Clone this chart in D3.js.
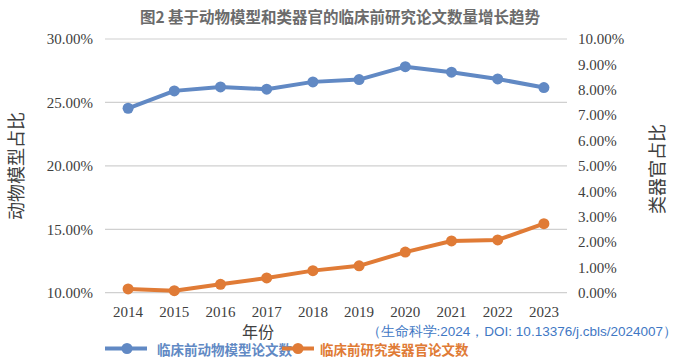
<!DOCTYPE html>
<html><head><meta charset="utf-8">
<script src="https://cdn.jsdelivr.net/npm/d3@7"></script>
<style>body{margin:0;background:#fff}svg{display:block}</style>
</head><body>
<svg id="c" width="680" height="360"></svg>
<script>
const years = ["2014","2015","2016","2017","2018","2019","2020","2021","2022","2023"];
const animalShare = [24.54, 25.91, 26.22, 26.04, 26.62, 26.80, 27.82, 27.38, 26.85, 26.17];
const organoidShare = [0.15, 0.08, 0.33, 0.58, 0.87, 1.06, 1.60, 2.04, 2.08, 2.72];
const leftTicks = [10, 15, 20, 25, 30];
const rightTicks = [0,1,2,3,4,5,6,7,8,9,10];
const title = "图2 基于动物模型和类器官的临床前研究论文数量增长趋势";
const seriesNames = ["临床前动物模型论文数", "临床前研究类器官论文数"];
const note = "（生命科学:2024，DOI: 10.13376/j.cbls/2024007）";

const blue = "#6189c4", orange = "#e07b36";
const svg = d3.select("#c");
const x = d3.scaleBand().domain(years).range([105, 567]);
const yL = d3.scaleLinear().domain([10, 30]).range([292.7, 39]);
const yR = d3.scaleLinear().domain([0, 10]).range([292.7, 39]);
const serif = "'Liberation Serif','Times New Roman',serif";
const cjk = "'Noto Sans CJK SC','Noto Sans',sans-serif";

svg.append("text").attr("x", 340).attr("y", 23).attr("text-anchor","middle")
  .attr("font-family", cjk).attr("font-weight","bold").attr("font-size",15.5)
  .attr("fill","#6b6b6b").text(title);

// gridlines
svg.append("g").selectAll("line").data(leftTicks).join("line")
  .attr("x1",105).attr("x2",567).attr("y1",d=>yL(d)).attr("y2",d=>yL(d))
  .attr("stroke","#d0d0d0").attr("stroke-width",1.2);

// left axis
const gL = svg.append("g").attr("transform","translate(105,0)")
  .call(d3.axisLeft(yL).tickValues(leftTicks).tickSize(0).tickPadding(12).tickFormat(d=>d.toFixed(2)+"%"));
gL.select(".domain").remove();
gL.selectAll("text").attr("font-family",serif).attr("font-size",15).attr("fill","#404040");

// right axis
const gR = svg.append("g").attr("transform","translate(567,0)")
  .call(d3.axisRight(yR).tickValues(rightTicks).tickSize(0).tickPadding(11).tickFormat(d=>d.toFixed(2)+"%"));
gR.select(".domain").remove();
gR.selectAll("text").attr("font-family",serif).attr("font-size",15).attr("fill","#404040");

// x axis
const gX = svg.append("g").attr("transform","translate(0,292.7)")
  .call(d3.axisBottom(x).tickSize(0).tickPadding(14));
gX.select(".domain").remove();
gX.selectAll("text").attr("font-family",serif).attr("font-size",15).attr("fill","#404040");

const cx = d => x(d) + x.bandwidth()/2;

// series
function drawSeries(vals, y, color){
  const data = years.map((yr,i)=>({yr, v: vals[i]}));
  svg.append("path").datum(data)
    .attr("d", d3.line().x(d=>cx(d.yr)).y(d=>y(d.v)))
    .attr("fill","none").attr("stroke",color).attr("stroke-width",4).attr("stroke-linejoin","round");
  svg.append("g").selectAll("circle").data(data).join("circle")
    .attr("cx",d=>cx(d.yr)).attr("cy",d=>y(d.v)).attr("r",5.5).attr("fill",color);
}
drawSeries(animalShare, yL, blue);
drawSeries(organoidShare, yR, orange);

// axis titles
svg.append("text").attr("transform","translate(23,166) rotate(-90)").attr("text-anchor","middle")
  .attr("font-family",cjk).attr("font-size",18).attr("fill","#404040").text("动物模型占比");
svg.append("text").attr("transform","translate(664,169) rotate(-90)").attr("text-anchor","middle")
  .attr("font-family",cjk).attr("font-size",18).attr("fill","#404040").text("类器官占比");
svg.append("text").attr("x",258).attr("y",338).attr("text-anchor","middle")
  .attr("font-family",cjk).attr("font-size",16).attr("fill","#404040").text("年份");

// note
svg.append("text").attr("x",677).attr("y",336).attr("text-anchor","end")
  .attr("font-family","'Liberation Sans',Arial,sans-serif").attr("font-size",13.5).attr("fill","#3f78c4").text(note);

// legend
const leg = [{c:blue,x1:105,x2:147,m:127,t:157},{c:orange,x1:282,x2:314,m:298,t:320}];
leg.forEach((l,i)=>{
  svg.append("line").attr("x1",l.x1).attr("x2",l.x2).attr("y1",348.5).attr("y2",348.5)
    .attr("stroke",l.c).attr("stroke-width",4);
  svg.append("circle").attr("cx",l.m).attr("cy",348.5).attr("r",5.5).attr("fill",l.c);
  svg.append("text").attr("x",l.t).attr("y",355).attr("font-family",cjk).attr("font-weight","bold")
    .attr("font-size",13.5).attr("fill",l.c).text(seriesNames[i]);
});
</script>
</body></html>
